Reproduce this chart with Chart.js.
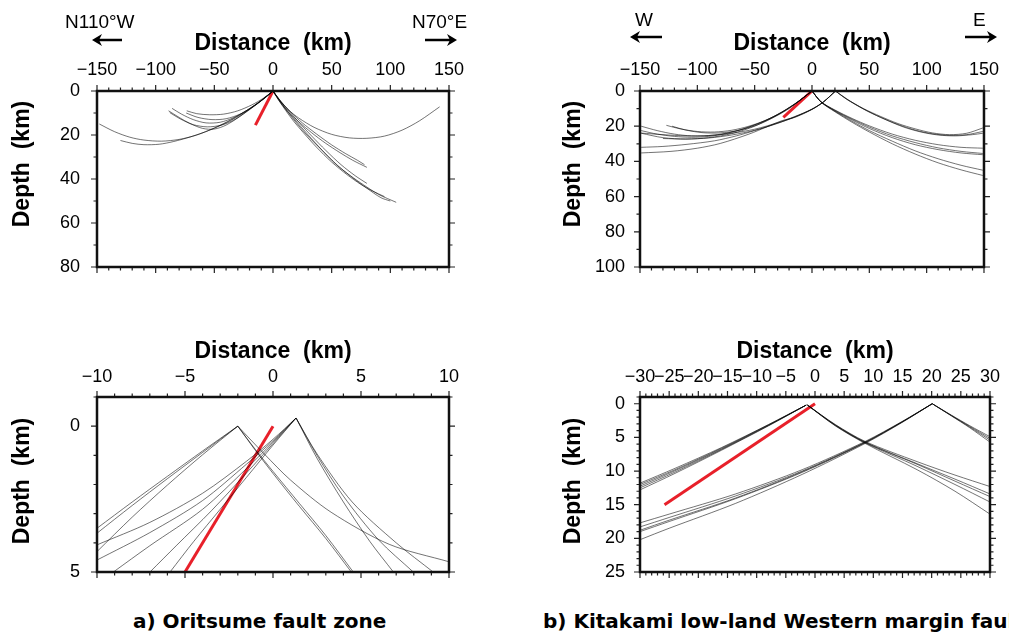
<!DOCTYPE html>
<html>
<head>
<meta charset="utf-8">
<script src="https://cdn.jsdelivr.net/npm/chart.js@4.4.1/dist/chart.umd.min.js"></script>
<style>
  body { margin: 0; width: 1009px; height: 634px; overflow: hidden; background: #fff; position: relative; }
  canvas { position: absolute; }
  .dir { position: absolute; font-family: 'Liberation Sans', Arial, sans-serif; font-size: 19px; line-height: 22px; color: #000; white-space: nowrap; }
  .ytitle { position: absolute; font-family: 'Liberation Sans', Arial, sans-serif; font-weight: bold; font-size: 23px; line-height: 26px; color: #000; white-space: pre; transform: translate(-50%, -50%) rotate(-90deg); }
  .cap { position: absolute; font-family: 'DejaVu Sans', sans-serif; font-weight: bold; font-size: 20px; line-height: 24px; color: #000; white-space: nowrap; }
</style>
</head>
<body>
<canvas id="c1" width="500" height="300" style="left:0;top:0"></canvas>
<canvas id="c2" width="509" height="300" style="left:500px;top:0"></canvas>
<canvas id="c3" width="500" height="300" style="left:0;top:300px"></canvas>
<canvas id="c4" width="509" height="300" style="left:500px;top:300px"></canvas>

<div class="dir" style="left:65px;top:11px">N110°W</div>
<div class="dir" style="left:412px;top:11px">N70°E</div>
<div class="dir" style="left:635px;top:9px">W</div>
<div class="dir" style="left:973px;top:9px">E</div>

<div class="ytitle" style="left:21px;top:164px">Depth  (km)</div>
<div class="ytitle" style="left:572px;top:164px">Depth  (km)</div>
<div class="ytitle" style="left:21px;top:481px">Depth  (km)</div>
<div class="ytitle" style="left:572px;top:481px">Depth  (km)</div>

<div class="cap" style="left:133px;top:609px">a) Oritsume fault zone</div>
<div class="cap" style="left:543px;top:609px">b) Kitakami low-land Western margin fault zone</div>

<script>
// 目盛り (ラベル付き)
const wideXTicks = [-150, -100, -50, 0, 50, 100, 150];
const oritsumeWideDepthTicks = [0, 20, 40, 60, 80];
const kitakamiWideDepthTicks = [0, 20, 40, 60, 80, 100];
const oritsumeNearXTicks = [-10, -5, 0, 5, 10];
const oritsumeNearDepthTicks = [0, 5];
const kitakamiNearXTicks = [-30, -25, -20, -15, -10, -5, 0, 5, 10, 15, 20, 25, 30];
const kitakamiNearDepthTicks = [0, 5, 10, 15, 20, 25];

// 断層 (赤線) [距離, 深さ]
const oritsumeWideFault = [[0, 0], [-15, 15.5]];
const kitakamiWideFault = [[0, 0], [-25, 15]];
const oritsumeNearFault = [[0, 0], [-5, 5]];
const kitakamiNearFault = [[0, 0], [-25.8, 15]];

// 波線 a) 広域
const oritsumeWideRays = [
  [[-148, 15], [-135, 18.5], [-122, 21], [-110, 22.3], [-95, 22.8], [-80, 22], [-65, 20], [-50, 16.8], [-35, 12.8], [-20, 8], [-8, 3.6], [0, 0]],
  [[-130, 22.5], [-120, 23.8], [-110, 24.4], [-97, 24.2], [-85, 23], [-70, 20.8], [-55, 18], [-40, 14.5], [-25, 10], [-10, 4.4], [0, 0]],
  [[-89, 9], [-80, 12], [-71, 14.7], [-60, 17], [-50, 17.3], [-40, 15.5], [-28, 11.5], [-15, 6.5], [0, 0]],
  [[-86, 7.9], [-78, 10.5], [-68, 13], [-57, 14.5], [-45, 14.2], [-33, 12], [-20, 8], [-8, 3.5], [0, 0]],
  [[-73.5, 9], [-65, 10.3], [-54, 10.8], [-42, 10.5], [-30, 9], [-18, 6.3], [-8, 3.2], [0, 0]],
  [[-88, 9.8], [-79, 12.7], [-68, 15.3], [-56, 16.3], [-44, 15.5], [-32, 12.8], [-18, 7.5], [-7, 3], [0, 0]],
  [[-74, 10], [-64, 12], [-52, 13], [-40, 12.6], [-28, 10.5], [-16, 6.8], [-6, 2.8], [0, 0]],
  [[0, 0], [6, 4.5], [13, 8.5], [22, 12.3], [35, 16.5], [50, 19.7], [65, 21.3], [80, 21.5], [95, 20.5], [110, 17.8], [125, 13.5], [142, 7.2]],
  [[0, 0], [6, 5], [13, 9.5], [22, 14], [33, 19], [45, 23.8], [57, 28], [68, 31.5], [80, 34.7]],
  [[0, 0], [7, 5], [15, 9.5], [25, 14.5], [37, 19.5], [50, 24.5], [62, 28.5], [72, 31.5], [78, 33.5]],
  [[0, 0], [5, 4], [12, 9.2], [20, 14.5], [28, 19.5], [40, 26], [54, 33.5], [66, 38.5], [77, 42.6], [90, 47], [105, 50.6]],
  [[0, 0], [5, 4.3], [11, 9], [18, 14], [26, 19], [37, 25.5], [50, 32.3], [63, 38], [75, 42.5], [85, 45.5], [95, 48]],
  [[0, 0], [6, 4.5], [13, 9.5], [21, 14.5], [30, 20], [42, 27], [55, 33.8], [68, 39.5], [80, 44.2], [92, 48.5], [100, 50]],
  [[0, 0], [6, 4.2], [14, 9.3], [23, 14.8], [33, 20.5], [45, 27], [58, 33.5], [70, 38.5], [80, 42]]
];

// 波線 b) 広域
const kitakamiWideRays = [
  [[0, 0], [-15, 7.5], [-30, 13.5], [-45, 18], [-60, 21.5], [-75, 24], [-90, 25.3], [-105, 25.5], [-120, 24.5], [-135, 22.5], [-149, 20]],
  [[0, 0], [-15, 7.3], [-30, 13.3], [-45, 18], [-60, 21.6], [-75, 24.2], [-90, 25.8], [-105, 26.3], [-120, 25.8], [-135, 24.5], [-149, 22.5]],
  [[0, 0], [-12, 6], [-25, 11.5], [-40, 16.5], [-55, 20], [-70, 22.3], [-85, 23.3], [-100, 23], [-115, 21.5], [-127, 19.5]],
  [[0, 0], [-8, 4], [-20, 10], [-35, 15.5], [-50, 19.8], [-65, 22.5], [-80, 23.8], [-95, 23.7], [-110, 22.2], [-122, 20]],
  [[0, 0], [-15, 7.4], [-30, 13.6], [-50, 20], [-70, 24.2], [-90, 26.5], [-110, 27.3], [-130, 26.5], [-149, 24]],
  [[20.5, 0], [10, 6.2], [0, 10.3], [-15, 14.5], [-30, 18], [-50, 21.7], [-70, 24], [-90, 25.3], [-110, 25.5], [-130, 24.8], [-149, 23.9]],
  [[20.5, 0], [10, 6.2], [0, 10.3], [-15, 14.8], [-32, 18.8], [-50, 22.5], [-66, 25.5], [-85, 28.3], [-109, 30.3], [-130, 31.5], [-149, 32]],
  [[20.5, 0], [10, 6.2], [0, 10.5], [-15, 15], [-26, 16.8], [-38, 20], [-55, 24.5], [-80, 29.8], [-100, 32.5], [-123, 34.3], [-149, 35.2]],
  [[20.5, 0], [10, 6.2], [0, 10.4], [-15, 14.7], [-30, 18.3], [-50, 22.3], [-70, 25], [-90, 26.7], [-110, 27.3], [-130, 27]],
  [[20.5, 0], [30, 4.5], [45, 10], [60, 14.5], [75, 18.5], [90, 21.5], [105, 23.8], [120, 24.8], [135, 24], [149, 21]],
  [[20.5, 0], [30, 4.6], [45, 10.3], [60, 15], [75, 19], [90, 22.2], [105, 24.3], [120, 25.2], [135, 24.8], [149, 23]],
  [[20.5, 0], [32, 5.2], [48, 11.3], [65, 16.5], [80, 20.5], [95, 23.3], [110, 25], [125, 25.5], [140, 24.8], [149, 24]],
  [[0, 0], [8, 6.2], [20, 11], [35, 16], [50, 20.5], [70, 25.5], [90, 29.3], [110, 32.3], [130, 34.3], [149, 35.5]],
  [[0, 0], [8, 6.2], [20, 11.3], [35, 16.5], [50, 21.3], [70, 26.5], [90, 30.5], [110, 33.3], [130, 35.2], [149, 36.2]],
  [[0, 0], [8, 6.2], [20, 10.8], [35, 15.6], [50, 19.8], [70, 24.5], [90, 28], [110, 30.5], [130, 32], [149, 32.5]],
  [[0, 0], [8, 6.3], [20, 11.5], [35, 17.2], [50, 22.5], [70, 28.5], [90, 34], [110, 38.5], [130, 42.2], [149, 45]],
  [[0, 0], [8, 6.4], [20, 11.8], [35, 17.8], [50, 23.3], [70, 30], [90, 35.8], [110, 40.8], [130, 44.8], [149, 48]]
];

// 波線 a) 拡大
const oritsumeNearRays = [
  [[-2, 0], [-4, 0.85], [-6, 1.72], [-8, 2.6], [-10, 3.5]],
  [[-2, 0], [-4, 0.9], [-6, 1.8], [-8, 2.72], [-10, 3.67]],
  [[-2, 0], [-4, 0.98], [-6, 2.02], [-8, 3.12], [-10, 4.3]],
  [[1.31, -0.28], [0, 0.45], [-1.5, 1.2], [-4, 2.3], [-7, 3.3], [-10, 4.07]],
  [[1.31, -0.28], [0, 0.5], [-1.5, 1.3], [-4, 2.55], [-7, 3.65], [-10, 4.59]],
  [[1.31, -0.28], [0, 0.55], [-1.5, 1.45], [-4, 2.85], [-7, 4.1], [-9.07, 5]],
  [[1.31, -0.28], [0, 0.6], [-1.5, 1.6], [-3.5, 2.9], [-5.5, 4.1], [-6.99, 5]],
  [[1.31, -0.28], [0, 0.65], [-1.5, 1.75], [-3, 2.85], [-4.5, 3.95], [-5.85, 5]],
  [[-2, 0], [-1, 0.8], [0, 1.55], [1.5, 2.65], [3, 3.75], [4.56, 5]],
  [[-2, 0], [-1, 0.83], [0, 1.62], [1.5, 2.75], [3, 3.85], [4.45, 5]],
  [[-2, 0], [-0.5, 0.95], [1, 1.85], [3.3, 2.95], [6.6, 4.05], [10, 4.65]],
  [[1.31, -0.28], [2.5, 1.1], [4, 2.6], [5.5, 3.95], [6.84, 5]],
  [[1.31, -0.28], [2.5, 1.0], [4, 2.4], [6, 3.9], [7.97, 5]],
  [[1.31, -0.28], [2.5, 0.95], [4.5, 2.6], [7, 4.0], [9.1, 5]]
];

// 波線 b) 拡大
const kitakamiNearRays = [
  [[-1.5, 0.2], [-8, 3.1], [-16, 6.5], [-24, 9.6], [-30, 11.8]],
  [[-1.5, 0.2], [-8, 3.15], [-16, 6.6], [-24, 9.8], [-30, 12.0]],
  [[-1.5, 0.2], [-8, 3.2], [-16, 6.7], [-24, 9.95], [-30, 12.25]],
  [[-1.5, 0.2], [-8, 3.25], [-16, 6.8], [-24, 10.15], [-30, 12.5]],
  [[-1.5, 0.2], [-8, 3.3], [-16, 6.9], [-24, 10.35], [-30, 12.8]],
  [[-1.3, 0.2], [3.5, 3.1], [8.6, 5.6], [17.5, 8.6], [24, 10.6], [30, 12.3]],
  [[-1.3, 0.2], [3.5, 3.15], [8.6, 5.7], [17.5, 8.9], [24, 11.2], [30, 13.4]],
  [[-1.3, 0.2], [3.5, 3.2], [8.6, 5.75], [17.5, 9.0], [24, 11.5], [30, 13.8]],
  [[-1.3, 0.2], [3.5, 3.25], [8.6, 5.8], [17.5, 9.3], [24, 12.0], [30, 14.6]],
  [[-1.3, 0.2], [3.5, 3.3], [8.6, 5.9], [17.5, 9.8], [24, 13.0], [30, 16.4]],
  [[20.1, 0], [14.9, 2.65], [8.6, 5.6], [-2.2, 9.8], [-13.6, 13.4], [-25, 16.4], [-30, 17.7]],
  [[20.1, 0], [14.9, 2.7], [8.6, 5.7], [-2.2, 10.0], [-13.6, 13.7], [-25, 16.9], [-30, 18.3]],
  [[20.1, 0], [14.9, 2.72], [8.6, 5.75], [-2.2, 10.1], [-13.6, 14.0], [-25, 17.3], [-30, 18.8]],
  [[20.1, 0], [14.9, 2.75], [8.6, 5.8], [-2.2, 10.2], [-13.6, 14.1], [-25, 17.5], [-30, 19.0]],
  [[20.1, 0], [14.9, 2.8], [8.6, 5.9], [-2.2, 10.5], [-13.6, 14.8], [-25, 18.5], [-30, 20.2]],
  [[20.1, 0], [23.4, 1.7], [26.5, 3.25], [30, 4.9]],
  [[20.1, 0], [23.4, 1.75], [26.5, 3.35], [30, 5.15]],
  [[20.1, 0], [23.4, 1.78], [26.5, 3.45], [30, 5.4]],
  [[20.1, 0], [23.4, 1.82], [26.5, 3.55], [30, 5.7]]
];

const TICK_FONT = { family: "'Liberation Sans', Arial, sans-serif", size: 18 };
const TITLE_FONT = { family: "'Liberation Sans', Arial, sans-serif", size: 23, weight: 'bold' };

/*
  マイナス記号
*/
function minus(v) {
  return String(v).replace('-', '\u2212');
}

/*
  補助目盛りの値
*/
function stepList(min, max, step) {
  let out = [];
  for (let v = min; v <= max + 1e-9; v += step) {
    out.push(Math.round(v * 1000) / 1000);
  }
  return out;
}

/*
  枠と目盛り、矢印
*/
const framePlugin = {
  id: 'frame',
  afterDraw(chart, args, opts) {
    const ctx = chart.ctx;
    const a = chart.chartArea;
    const xs = chart.scales.x;
    const ys = chart.scales.y;
    ctx.save();
    ctx.strokeStyle = '#222';
    ctx.lineWidth = 1.2;
    ctx.beginPath();
    stepList(xs.min, xs.max, opts.xMinor).forEach(v => {
      let len = opts.xMajor.includes(v) ? 6 : 3.5;
      let px = xs.getPixelForValue(v);
      ctx.moveTo(px, a.top); ctx.lineTo(px, a.top - len);
      ctx.moveTo(px, a.bottom); ctx.lineTo(px, a.bottom + len);
    });
    stepList(ys.min, ys.max, opts.yMinor).forEach(v => {
      let len = opts.yMajor.includes(v) ? 6 : 3.5;
      let py = ys.getPixelForValue(v);
      ctx.moveTo(a.left, py); ctx.lineTo(a.left - len, py);
      ctx.moveTo(a.right, py); ctx.lineTo(a.right + len, py);
    });
    ctx.stroke();

    // 枠
    ctx.strokeStyle = '#111';
    ctx.lineWidth = 2.5;
    ctx.strokeRect(a.left, a.top, a.right - a.left, a.bottom - a.top);

    // 方向の矢印
    ctx.lineWidth = 2.5;
    ctx.strokeStyle = '#000';
    ctx.fillStyle = '#000';
    (opts.arrows || []).forEach(ar => {
      let dir = ar.to > ar.from ? 1 : -1;
      ctx.beginPath();
      ctx.moveTo(ar.from, ar.y); ctx.lineTo(ar.to - dir * 4, ar.y);
      ctx.stroke();
      ctx.beginPath();
      ctx.moveTo(ar.to, ar.y);
      ctx.lineTo(ar.to - dir * 10, ar.y - 6);
      ctx.lineTo(ar.to - dir * 7, ar.y);
      ctx.lineTo(ar.to - dir * 10, ar.y + 6);
      ctx.closePath();
      ctx.fill();
    });
    ctx.restore();
  }
};
Chart.register(framePlugin);

/*
  データセット
*/
function rayDatasets(rays, fault) {
  let sets = rays.map(r => ({
    data: r.map(p => ({ x: p[0], y: p[1] })),
    showLine: true,
    pointRadius: 0,
    borderWidth: 1,
    borderColor: 'rgba(0,0,0,0.55)',
    tension: 0.3
  }));
  sets.push({
    data: fault.map(p => ({ x: p[0], y: p[1] })),
    showLine: true,
    pointRadius: 0,
    borderWidth: 3,
    borderColor: '#e8202a',
    tension: 0
  });
  return sets;
}

/*
  パネル描画
*/
function drawPanel(p) {
  new Chart(document.getElementById(p.id), {
    type: 'scatter',
    data: { datasets: rayDatasets(p.rays, p.fault) },
    options: {
      responsive: false,
      animation: false,
      layout: { padding: p.pad },
      plugins: {
        legend: { display: false },
        tooltip: { enabled: false },
        frame: { xMajor: p.xTicks, yMajor: p.yTicks, xMinor: p.xMinor, yMinor: p.yMinor, arrows: p.arrows }
      },
      scales: {
        x: {
          type: 'linear',
          position: 'top',
          min: p.xRange[0],
          max: p.xRange[1],
          afterBuildTicks: s => { s.ticks = p.xTicks.map(v => ({ value: v })); },
          afterFit: s => { s.height = p.xHeight; },
          grid: { display: false, drawTicks: false },
          border: { display: false },
          ticks: { font: TICK_FONT, color: '#000', padding: p.xTickPad, maxRotation: 0, minRotation: 0, autoSkip: false, callback: v => minus(v) },
          title: { display: true, text: 'Distance  (km)', font: TITLE_FONT, color: '#000', padding: { top: p.xTitlePad, bottom: 0 } }
        },
        y: {
          type: 'linear',
          position: 'left',
          reverse: true,
          min: p.yRange[0],
          max: p.yRange[1],
          afterBuildTicks: s => { s.ticks = p.yTicks.map(v => ({ value: v })); },
          afterFit: s => { s.width = p.yWidth; },
          grid: { display: false, drawTicks: false },
          border: { display: false },
          ticks: { font: TICK_FONT, color: '#000', padding: p.yTickPad, autoSkip: false, callback: v => minus(v) }
        }
      }
    }
  });
}

drawPanel({
  id: 'c1', rays: oritsumeWideRays, fault: oritsumeWideFault,
  xRange: [-150, 150], yRange: [0, 80], xTicks: wideXTicks, yTicks: oritsumeWideDepthTicks, xMinor: 10, yMinor: 10,
  pad: { left: 0, right: 51, top: 0, bottom: 33 }, yWidth: 97, xHeight: 91, xTitlePad: 30, xTickPad: 10, yTickPad: 17,
  arrows: [{ from: 122, to: 92, y: 40 }, { from: 425, to: 457, y: 40 }]
});
drawPanel({
  id: 'c2', rays: kitakamiWideRays, fault: kitakamiWideFault,
  xRange: [-150, 150], yRange: [0, 100], xTicks: wideXTicks, yTicks: kitakamiWideDepthTicks, xMinor: 10, yMinor: 10,
  pad: { left: 0, right: 18, top: 0, bottom: 33 }, yWidth: 140, xHeight: 91, xTitlePad: 30, xTickPad: 10, yTickPad: 15,
  arrows: [{ from: 162, to: 130, y: 37 }, { from: 465, to: 497, y: 37 }]
});
drawPanel({
  id: 'c3', rays: oritsumeNearRays, fault: oritsumeNearFault,
  xRange: [-10, 10], yRange: [-1, 5], xTicks: oritsumeNearXTicks, yTicks: oritsumeNearDepthTicks, xMinor: 1, yMinor: 1,
  pad: { left: 0, right: 51, top: 0, bottom: 28 }, yWidth: 97, xHeight: 97, xTitlePad: 38, xTickPad: 9, yTickPad: 17
});
drawPanel({
  id: 'c4', rays: kitakamiNearRays, fault: kitakamiNearFault,
  xRange: [-30, 30], yRange: [-1, 25], xTicks: kitakamiNearXTicks, yTicks: kitakamiNearDepthTicks, xMinor: 1, yMinor: 1,
  pad: { left: 0, right: 18, top: 0, bottom: 28 }, yWidth: 140, xHeight: 97, xTitlePad: 38, xTickPad: 9, yTickPad: 15
});
</script>
</body>
</html>
